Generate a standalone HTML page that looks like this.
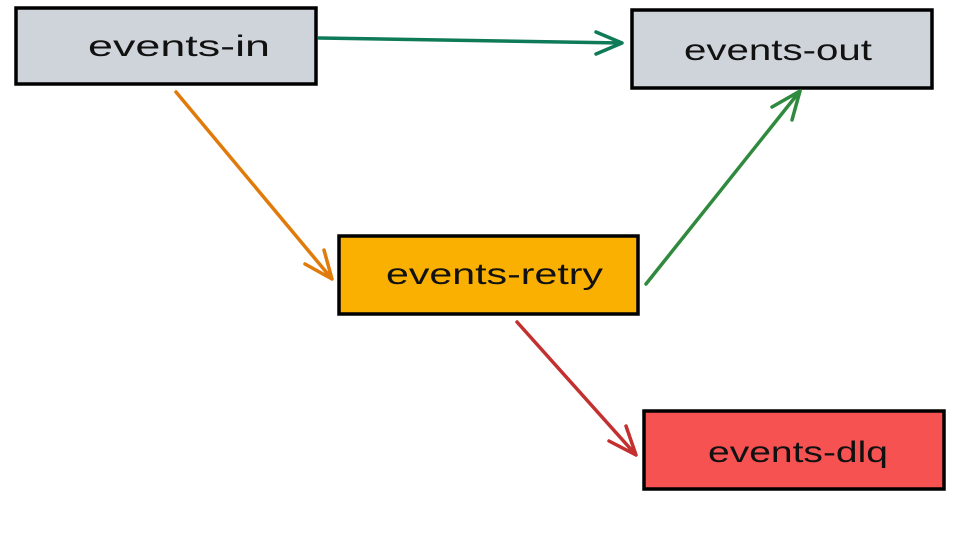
<!DOCTYPE html>
<html><head><meta charset="utf-8"><style>html,body{margin:0;padding:0;background:#fff}svg{display:block}</style></head>
<body>
<svg width="954" height="544" viewBox="0 0 954 544" xmlns="http://www.w3.org/2000/svg">
<g stroke="#000" stroke-width="3.5">
<rect x="16" y="8" width="300" height="76" fill="#ced4da"/>
<rect x="632" y="10" width="300" height="78" fill="#ced4da"/>
<rect x="339" y="236" width="299" height="78" fill="#f9b000"/>
<rect x="644" y="411" width="300" height="78" fill="#f65252"/>
</g>
<g fill="none" stroke-width="3.5" stroke-linecap="round" stroke-linejoin="round">
<path d="M319 38 L622 43 M596 32 L622 43 L596 54" stroke="#0e7a57"/>
<path d="M176 92 L332 279 M305 264 L332 279 L324 250" stroke="#e07b0b"/>
<path d="M646 284 L800 91 M772 107 L800 91 L792 120" stroke="#2f8a3e"/>
<path d="M517 322 L636 455 M609 441 L636 455 L626 426" stroke="#c23030"/>
</g>
<g font-family="'Liberation Sans', sans-serif" font-size="30" fill="#111">
<text x="88" y="56" textLength="182" lengthAdjust="spacingAndGlyphs">events-in</text>
<text x="684" y="60" textLength="188" lengthAdjust="spacingAndGlyphs">events-out</text>
<text x="386" y="284" textLength="217" lengthAdjust="spacingAndGlyphs">events-retry</text>
<text x="708" y="462" textLength="180" lengthAdjust="spacingAndGlyphs">events-dlq</text>
</g>
</svg>
</body></html>
